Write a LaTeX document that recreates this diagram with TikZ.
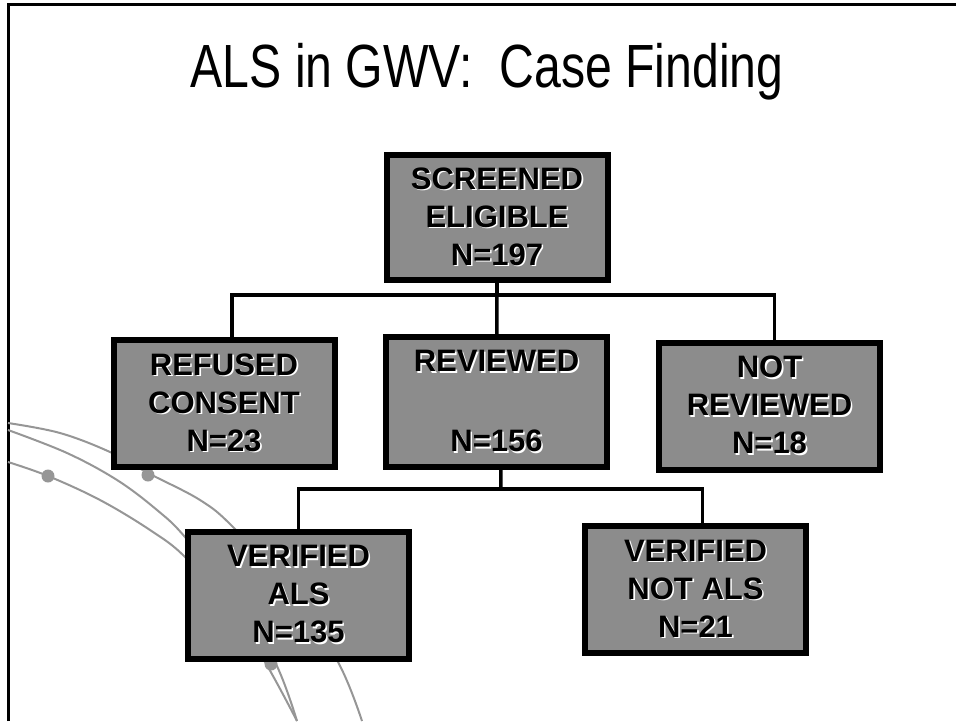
\documentclass[tikz,border=0pt]{standalone}
\usepackage{fontspec}
\setmainfont{Liberation Sans}
\definecolor{boxgray}{RGB}{140,140,140}
\definecolor{decogray}{RGB}{150,150,150}
\newcommand\sh[1]{\leavevmode\rlap{\kern1.6pt\raisebox{-1.6pt}{\textcolor{white}{#1}}}#1}
\begin{document}
\begin{tikzpicture}[x=1pt,y=-1pt,
  boxst/.style={draw=black,line width=6pt,fill=boxgray,minimum width=221pt,minimum height=127pt,
    inner sep=0pt,align=center,font=\fontsize{31}{38}\selectfont\bfseries},
  wire/.style={draw=black,line width=3.5pt},
  deco/.style={draw=decogray,line width=2pt},
  dot/.style={fill=decogray}]
\useasboundingbox (0,0) rectangle (956,721);
% frame
\draw[line width=3pt] (8,721) -- (8,4) -- (956,4);
% title
\node[anchor=base,font=\fontsize{61}{61}\selectfont] (title) at (487,87)
  {\scalebox{0.79}[1]{ALS in GWV:\ \ Case Finding}};
% decorative arcs
\draw[deco] plot[smooth,tension=0.6] coordinates {(8,423) (60,433) (110,452) (148,473) (200,500) (233,527) (290,590) (338,662) (362,721)};
\draw[deco] plot[smooth,tension=0.6] coordinates {(8,430) (67,453) (117,480) (157,510) (185,537) (235,600) (275,662) (297,721)};
\draw[deco] plot[smooth,tension=0.6] coordinates {(8,462) (48,476) (100,500) (150,530) (185,557) (230,610) (265,662) (297,721)};
\fill[dot] (48,476) circle (6.5);
\fill[dot] (148,475) circle (6.5);
\fill[dot] (271,664) circle (6.5);
% junctions
\coordinate (j1) at (497,295);
\coordinate (j2) at (501,489);
% box centres
\path (497,217.5) coordinate (cscr)
      (224,403.5) coordinate (cref)
      (496.5,402) coordinate (crev)
      (769.5,406) coordinate (cnot)
      (298.5,595) coordinate (cvals)
      (695.5,589.5) coordinate (cvnot);
% wires
\draw[wire] (cscr) -- (j1);
\draw[wire] ([xshift=8pt]cref) |- (j1) -| ([xshift=5pt]cnot);
\draw[wire] (j1) -- (crev);
\draw[wire] ([xshift=4pt]crev) -- (j2);
\draw[wire] (cvals) |- (j2) -| ([xshift=7pt]cvnot);
% boxes
\node[boxst,minimum height=125pt] (scr) at (cscr) {\sh{SCREENED}\\\sh{ELIGIBLE}\\\sh{N=197}};
\node[boxst] (ref) at (cref) {\sh{REFUSED}\\\sh{CONSENT}\\\sh{N=23}};
\node[boxst,minimum height=130pt] (rev) at (crev) {\sh{REVIEWED}\\[4pt]\mbox{}\\\sh{N=156}};
\node[boxst] (notrev) at (cnot) {\sh{NOT}\\\sh{REVIEWED}\\\sh{N=18}};
\node[boxst] (vals) at (cvals) {\sh{VERIFIED}\\\sh{ALS}\\\sh{N=135}};
\node[boxst] (vnot) at (cvnot) {\sh{VERIFIED}\\\sh{NOT ALS}\\\sh{N=21}};
\end{tikzpicture}
\end{document}
